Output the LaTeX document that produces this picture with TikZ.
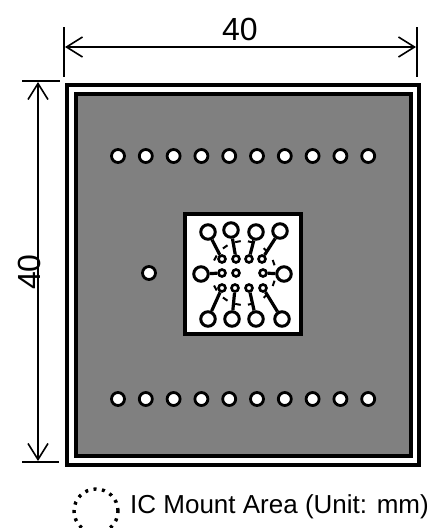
\documentclass[tikz,border=0pt]{standalone}
\usepackage{fontspec}
\setmainfont{Liberation Sans}
\usetikzlibrary{arrows.meta}
\tikzset{
    via/.style = {draw, circle, fill=white, line width=2.8pt, inner sep=0pt, minimum size=13pt},
    landpad/.style = {draw, circle, fill=white, line width=3pt, inner sep=0pt, minimum size=14.5pt},
    smallpad/.style = {draw, circle, fill=white, line width=2.6pt, inner sep=0pt, minimum size=7pt},
    trace/.style = {line width=3.2pt},
    dimline/.style = {line width=1.5pt, {Straight Barb[length=16pt,width=20pt,line width=1.6pt]}-{Straight Barb[length=16pt,width=20pt,line width=1.6pt]}},
    tick/.style = {line width=2.4pt},
    label/.style = {inner sep=0pt, font=\fontsize{32}{32}\selectfont}
}
\begin{document}
\begin{tikzpicture}[x=1pt, y=-1pt]
    \clip (0,0) rectangle (435,528);
    \fill[white] (0,0) rectangle (435,528);
    % board
    \draw[line width=3.5pt] (67,85) rectangle (419,465);
    \draw[line width=4pt, fill=gray] (76,94) rectangle (411,456);
    \draw[line width=4pt, fill=white] (185,214) rectangle (301,334);
    % dimensions
    \coordinate (ltop) at (64,27);
    \coordinate (lbot) at (64,77);
    \coordinate (rtop) at (417,27);
    \coordinate (rbot) at (417,77);
    \coordinate (wl) at (65,47);
    \coordinate (wr) at (416,47);
    \draw[tick] (ltop) -- (lbot);
    \draw[tick] (rtop) -- (rbot);
    \draw[dimline] (wl) -- (wr);
    \coordinate (tl) at (22,81);
    \coordinate (tr) at (60,81);
    \coordinate (bl) at (22,462);
    \coordinate (br) at (59,462);
    \coordinate (ht) at (38,82);
    \coordinate (hb) at (38,461);
    \draw[tick] (tl) -- (tr);
    \draw[tick] (bl) -- (br);
    \draw[dimline] (ht) -- (hb);
    \node[label] (width) at (240,29) {40};
    \node[label, rotate=90] (height) at (29,272) {40};
    % vias
    \foreach \i in {0,...,9} {
        \node[via] (topvia\i) at (118+27.8*\i,156) {};
        \node[via] (botvia\i) at (118+27.8*\i,399) {};
    }
    \node[via] (leftvia) at (149,273) {};
    % IC mount area
    \foreach \a in {152,125,100,77,46,19,-19,-46,-77,-100,-125,-152} {
        \draw[line width=2pt] (243.5,273) ++(\a-5:32) arc[start angle=\a-5, end angle=\a+5, radius=32];
    }
    % land pads
    \node[landpad] (pa) at (208,232) {};
    \node[landpad] (pb) at (231,230) {};
    \node[landpad] (pc) at (256,232) {};
    \node[landpad] (pd) at (280,231) {};
    \node[landpad] (pe) at (201,274) {};
    \node[landpad] (pf) at (284,274) {};
    \node[landpad] (pg) at (208,319) {};
    \node[landpad] (ph) at (232,319) {};
    \node[landpad] (pi) at (256,319) {};
    \node[landpad] (pj) at (282,319) {};
    % small pads
    \node[smallpad] (sa) at (222,259) {};
    \node[smallpad] (sb) at (236,259) {};
    \node[smallpad] (sc) at (249,259) {};
    \node[smallpad] (sd) at (262,259) {};
    \node[smallpad] (se) at (222,273) {};
    \node[smallpad] (sk) at (236,273) {};
    \node[smallpad] (sf) at (263,273) {};
    \node[smallpad] (sg) at (222,288) {};
    \node[smallpad] (sh) at (235,288) {};
    \node[smallpad] (si) at (249,288) {};
    \node[smallpad] (sj) at (263,288) {};
    \foreach \p in {a,b,c,d,e,f,g,h,i,j} {
        \draw[trace] (p\p) -- (s\p);
    }
    % legend
    \node[circle, draw, dash pattern=on 3pt off 5.5pt, line width=3.4pt, inner sep=0pt, minimum size=44pt] (mount) at (96,511) {};
    \node[anchor=west, inner sep=0pt, font=\fontsize{26}{26}\selectfont] (legend) at (130,507) {IC Mount Area (Unit: mm)};
\end{tikzpicture}
\end{document}
